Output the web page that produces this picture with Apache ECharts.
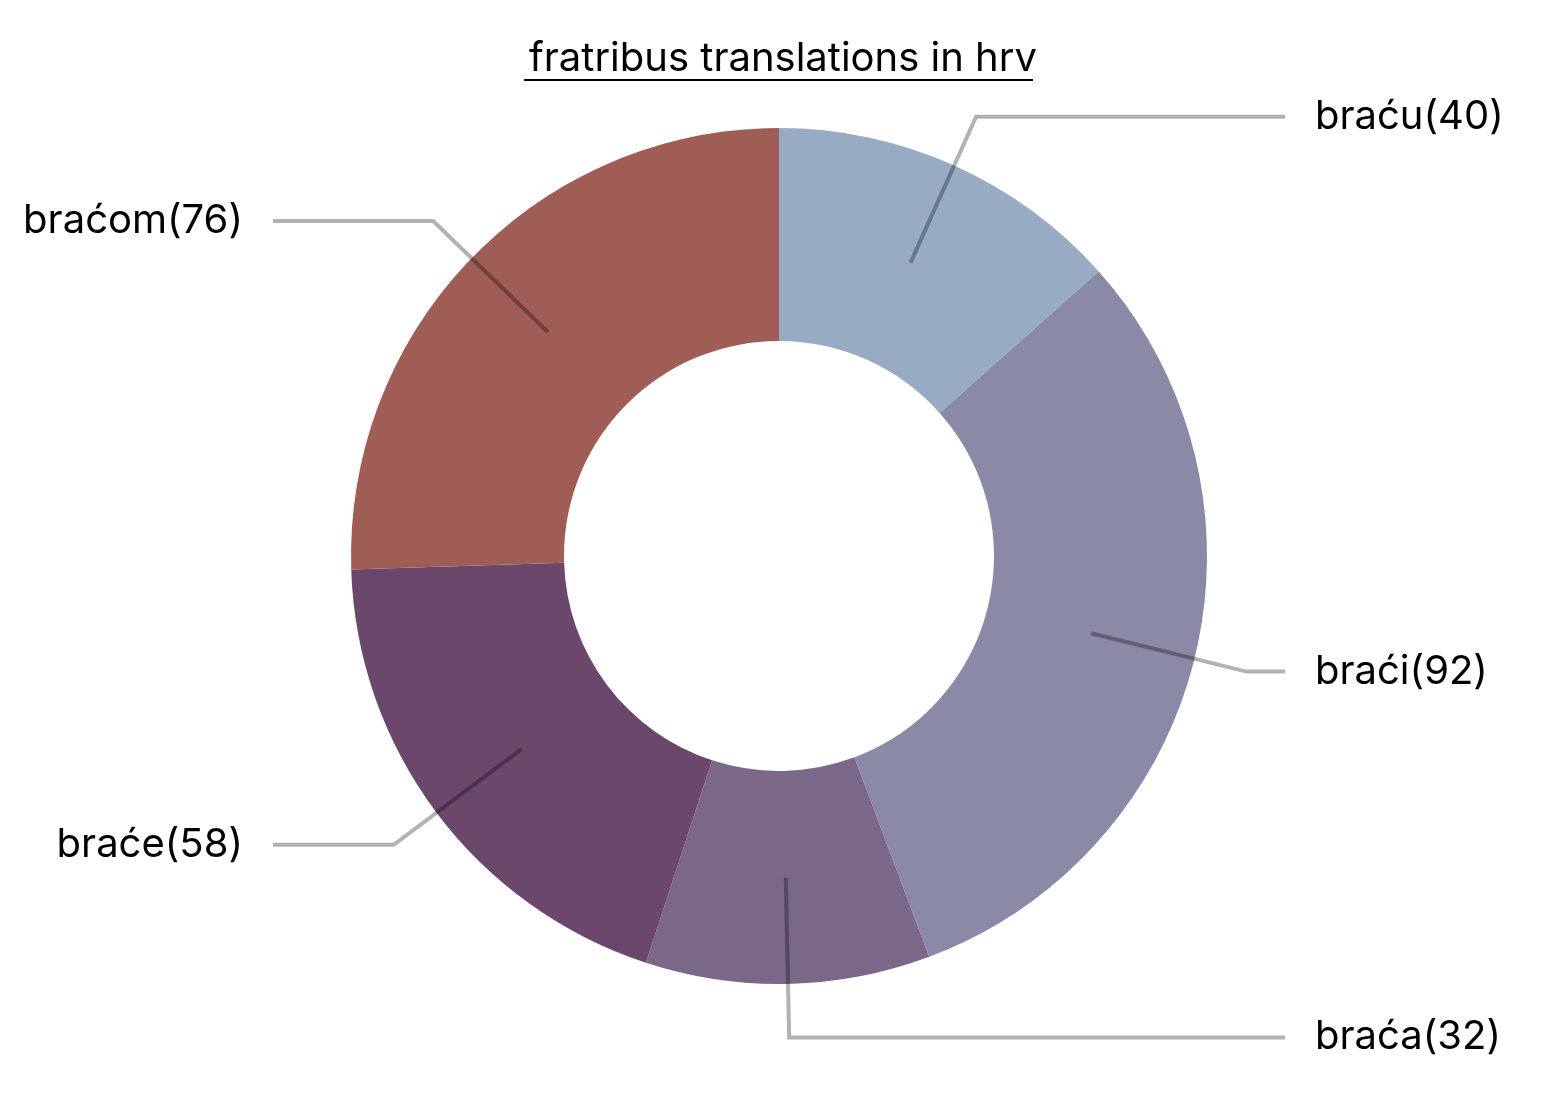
<!DOCTYPE html>
<html>
<head>
<meta charset="utf-8">
<script src="https://cdn.jsdelivr.net/npm/echarts@6/dist/echarts.min.js"></script>
<style>
  html, body { margin: 0; padding: 0; background: #fff; }
  #main { width: 1542px; height: 1102px; }
</style>
</head>
<body>
<div id="main"></div>
<script>
// data
const categories = ['braću', 'braći', 'braća', 'braće', 'braćom'];
const counts = [40, 92, 32, 58, 76];
const colors = ['#98abc5', '#8a89a6', '#7b6888', '#6b486b', '#a05d56'];
const titleText = 'fratribus translations in hrv';

// layout
const cx = 779, cy = 556;
const outerR = 428, innerR = 215;
const lineEnd = 506;   // horizontal distance of leader line end from centre
const textGap = 30;    // gap between leader line end and label text
const fontFamily = 'Inter, "Liberation Sans", sans-serif';

const chart = echarts.init(document.getElementById('main'));

chart.setOption({
  animation: false,
  title: {
    text: titleText,
    left: 524,
    top: 34,
    textStyle: { fontSize: 40, fontWeight: 'normal', color: '#000', fontFamily: fontFamily }
  },
  graphic: [{
    type: 'line',
    shape: { x1: 524, y1: 80, x2: 1033, y2: 80 },
    style: { stroke: '#000', lineWidth: 2 },
    silent: true
  }],
  series: [
    {
      // the donut
      type: 'pie',
      z: 2,
      center: [cx, cy],
      radius: [innerR, outerR],
      startAngle: 90,
      clockwise: true,
      silent: true,
      label: { show: false },
      labelLine: { show: false },
      itemStyle: { borderWidth: 0 },
      emphasis: { disabled: true },
      data: categories.map((name, i) => ({ name: name, value: counts[i], itemStyle: { color: colors[i] } }))
    },
    {
      // invisible pie, only used for labels so the lines start mid-ring
      type: 'pie',
      z: 5,
      center: [cx, cy],
      radius: [0, (innerR + outerR) / 2],
      startAngle: 90,
      clockwise: true,
      silent: true,
      avoidLabelOverlap: false,
      itemStyle: { color: 'rgba(0,0,0,0)', borderWidth: 0 },
      emphasis: { disabled: true },
      label: {
        show: true,
        formatter: p => p.name + '(' + p.value + ')',
        fontSize: 40,
        color: '#000',
        fontFamily: fontFamily
      },
      labelLine: {
        show: true,
        length: 160,
        length2: 20,
        smooth: false,
        lineStyle: { color: 'rgba(0,0,0,0.3)', width: 4 }
      },
      labelLayout: function (params) {
        const pts = params.labelLinePoints;
        if (!pts) return {};
        const right = pts[1][0] >= cx;
        const endX = right ? cx + lineEnd : cx - lineEnd;
        return {
          x: right ? endX + textGap : endX - textGap,
          y: pts[1][1],
          align: right ? 'left' : 'right',
          verticalAlign: 'middle',
          labelLinePoints: [pts[0].slice(), pts[1].slice(), [endX, pts[1][1]]]
        };
      },
      data: categories.map((name, i) => ({ name: name, value: counts[i] }))
    }
  ]
});
</script>
</body>
</html>
